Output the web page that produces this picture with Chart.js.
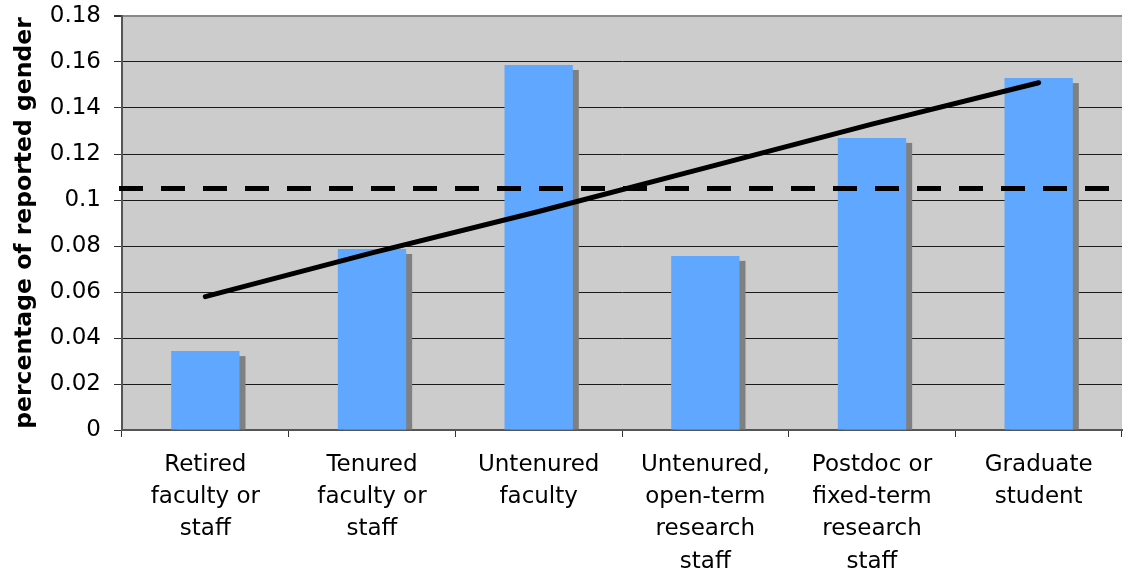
<!DOCTYPE html>
<html>
<head>
<meta charset="utf-8">
<title>Reported gender by position</title>
<script src="https://cdn.jsdelivr.net/npm/chart.js@4.4.0/dist/chart.umd.min.js"></script>
<style>
    html, body { margin: 0; padding: 0; background: #ffffff; }
    #wrap { width: 1124px; height: 577px; position: relative; }
</style>
</head>
<body>
<div id="wrap"><canvas id="chart"></canvas></div>
<script>
// Categories (multi-line labels as shown under the axis)
const positions = [
    ['Retired', 'faculty or', 'staff'],
    ['Tenured', 'faculty or', 'staff'],
    ['Untenured', 'faculty'],
    ['Untenured,', 'open-term', 'research', 'staff'],
    ['Postdoc or', 'fixed-term', 'research', 'staff'],
    ['Graduate', 'student']
];

// Bar heights
const shareValues = [0.0343, 0.0787, 0.1587, 0.0757, 0.127, 0.153];

// Straight trend line, read at each category centre
const trendValues = [0.058, 0.077, 0.095, 0.114, 0.133, 0.151];

// Horizontal dashed reference level
const referenceLevel = [0.105];

// Y axis tick range
const yTickValues = [0, 0.02, 0.04, 0.06, 0.08, 0.1, 0.12, 0.14, 0.16, 0.18];

Chart.defaults.font.family = "'DejaVu Sans', Verdana, sans-serif";
Chart.defaults.color = '#000000';

// Grey plot background
const plotBackground = {
    id: 'plotBackground',
    beforeDraw(chart) {
        const { ctx, chartArea: a } = chart;
        ctx.save();
        ctx.fillStyle = '#cccccc';
        ctx.fillRect(a.left, a.top, a.right - a.left, a.bottom - a.top);
        ctx.restore();
    }
};

// Drop shadow to the lower right of each bar
const barShadow = {
    id: 'barShadow',
    beforeDatasetDraw(chart, args) {
        if (args.meta.type !== 'bar') return;
        const ctx = chart.ctx;
        ctx.save();
        ctx.fillStyle = '#808080';
        args.meta.data.forEach(bar => {
            const w = bar.width;
            const h = bar.base - bar.y - 5;
            if (h > 0) ctx.fillRect(bar.x - w / 2 + 6, bar.y + 5, w, h);
        });
        ctx.restore();
    }
};

// Dashed reference line across the plot
const referenceLine = {
    id: 'referenceLine',
    afterDatasetsDraw(chart) {
        const { ctx, chartArea: a, scales } = chart;
        ctx.save();
        ctx.strokeStyle = '#000000';
        ctx.lineWidth = 5;
        ctx.setLineDash([24, 18]);
        referenceLevel.forEach(v => {
            const y = scales.y.getPixelForValue(v);
            ctx.beginPath();
            ctx.moveTo(a.left - 3, y);
            ctx.lineTo(a.right, y);
            ctx.stroke();
        });
        ctx.restore();
    }
};

new Chart(document.getElementById('chart'), {
    type: 'bar',
    data: {
        labels: positions,
        datasets: [
            {
                type: 'line',
                data: trendValues,
                borderColor: '#000000',
                borderWidth: 5,
                borderCapStyle: 'round',
                pointRadius: 0,
                fill: false,
                order: 0
            },
            {
                type: 'bar',
                data: shareValues,
                backgroundColor: '#60a8ff',
                borderWidth: 0,
                categoryPercentage: 1,
                barPercentage: 0.41,
                order: 1
            }
        ]
    },
    options: {
        responsive: true,
        maintainAspectRatio: false,
        animation: false,
        layout: { padding: { top: 16, right: 2, left: 0, bottom: 0 } },
        plugins: {
            legend: { display: false },
            tooltip: { enabled: false }
        },
        scales: {
            x: {
                offset: true,
                grid: {
                    offset: true,
                    drawOnChartArea: false,
                    tickLength: 7,
                    tickColor: '#333333',
                    lineWidth: 1
                },
                border: { color: '#555555', width: 2 },
                ticks: {
                    font: { size: 23, lineHeight: 1.4 },
                    padding: 12,
                    maxRotation: 0,
                    autoSkip: false
                },
                afterFit(scale) { scale.height = 147; }
            },
            y: {
                min: 0,
                max: 0.18,
                afterBuildTicks(scale) {
                    scale.ticks = yTickValues.map(v => ({ value: v }));
                },
                grid: {
                    color: ctx => (ctx.tick && ctx.tick.value >= 0.18 ? '#888888' : '#1a1a1a'),
                    lineWidth: ctx => (ctx.tick && ctx.tick.value >= 0.18 ? 2 : 1),
                    tickLength: 8,
                    tickColor: '#333333'
                },
                border: { color: '#555555', width: 2 },
                ticks: {
                    font: { size: 23 },
                    padding: 13,
                    callback: v => String(Number(v.toFixed(2)))
                },
                title: {
                    display: true,
                    text: 'percentage of reported gender',
                    font: { size: 23.5, weight: 'bold' },
                    padding: { top: 11, bottom: 0 }
                },
                afterFit(scale) {
                    scale.width = 122;
                    scale.paddingTop = 0;
                    scale.paddingBottom = 0;
                }
            }
        }
    },
    plugins: [plotBackground, barShadow, referenceLine]
});
</script>
</body>
</html>
